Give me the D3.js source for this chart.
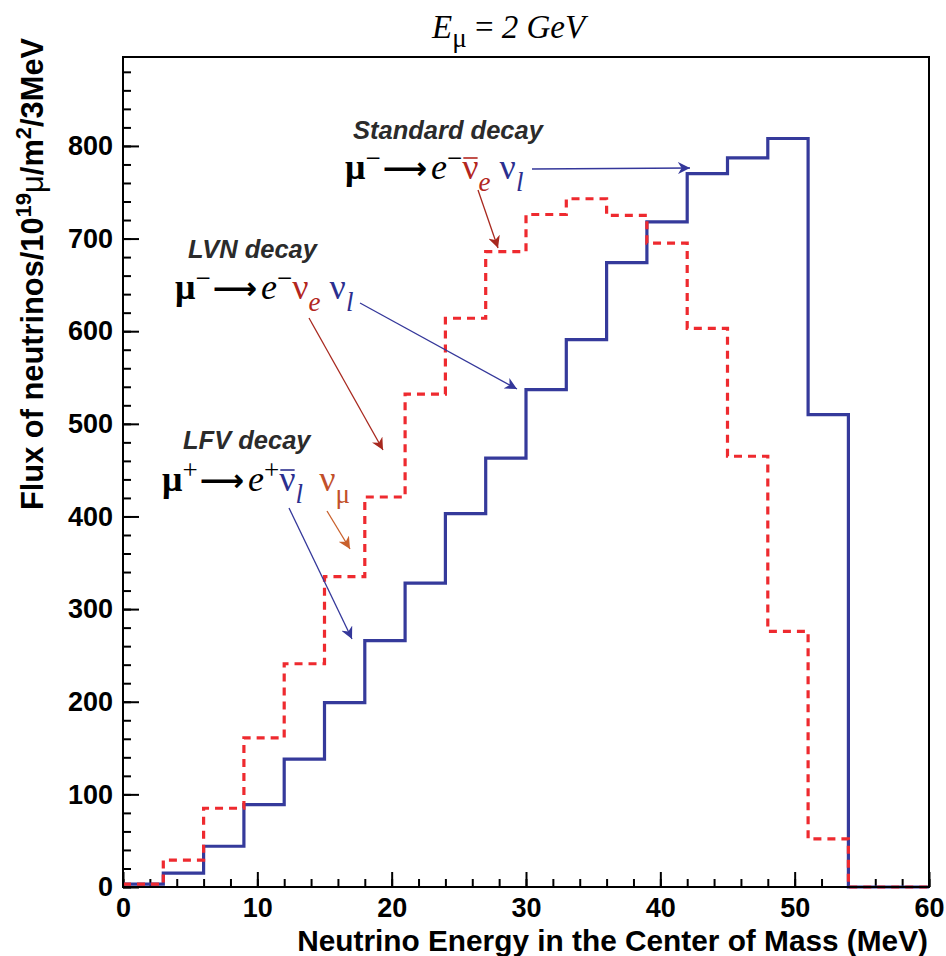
<!DOCTYPE html>
<html lang="en">
<head>
    <meta charset="UTF-8">
    <title>Neutrino flux, E_mu = 2 GeV</title>
    <script src="https://d3js.org/d3.v7.min.js"></script>
    <style>
        body { margin: 0; background: #fff; }
        svg { display: block; }
        .tick text { font-family: "Liberation Sans", Arial, sans-serif; font-weight: bold; }
    </style>
</head>
<body>
<div id="my_dataviz"></div>
<script>
// bin lower edges (MeV), 3 MeV wide
var binStarts = [0, 3, 6, 9, 12, 15, 18, 21, 24, 27, 30, 33, 36, 39, 42, 45, 48, 51, 54, 57];
// standard decay (solid blue)
var standardFlux = [3, 15, 44, 89, 138, 199, 266, 328, 403, 463, 537, 591, 674, 718, 770, 787, 808, 510, 0, 0];
// LVN / LFV decay (dashed red)
var lvnFlux = [3, 29, 85, 161, 241, 335, 421, 532, 614, 686, 726, 743, 725, 695, 603, 465, 276, 52, 0, 0];
var binWidth = 3;
var xTicks = [0, 10, 20, 30, 40, 50, 60];
var yTicks = [0, 100, 200, 300, 400, 500, 600, 700, 800];

var W = 946, H = 956;
var margin = { top: 57, right: 17, bottom: 69, left: 123 },
    width = W - margin.left - margin.right,
    height = H - margin.top - margin.bottom;

var svgRoot = d3.select("#my_dataviz").append("svg")
    .attr("width", W).attr("height", H);

var defs = svgRoot.append("defs");
function marker(id, color) {
    defs.append("marker")
        .attr("id", id)
        .attr("viewBox", "0 0 10 10")
        .attr("refX", 10).attr("refY", 5)
        .attr("markerWidth", 12).attr("markerHeight", 12)
        .attr("markerUnits", "userSpaceOnUse")
        .attr("orient", "auto")
        .append("path")
        .attr("d", "M0,0 L10,5 L0,10 L3,5 Z")
        .attr("fill", color);
}
marker("arrBlue", "#34379a");
marker("arrRed", "#a8281e");
marker("arrOrange", "#c9602c");

var svg = svgRoot.append("g")
    .attr("transform", "translate(" + margin.left + "," + margin.top + ")");

var x = d3.scaleLinear().domain([0, 60]).range([0, width]);
var y = d3.scaleLinear().domain([0, 896]).range([height, 0]);

// axes: ticks drawn inward like ROOT
var xMinor = svg.append("g").attr("transform", "translate(0," + height + ")")
    .call(d3.axisBottom(x).tickValues(d3.range(0, 61, 2)).tickSize(-8).tickFormat(""));
var xMajor = svg.append("g").attr("transform", "translate(0," + height + ")")
    .call(d3.axisBottom(x).tickValues(xTicks).tickSize(-15).tickPadding(8));
var yMinor = svg.append("g")
    .call(d3.axisLeft(y).tickValues(d3.range(0, 896, 20)).tickSize(-8).tickFormat(""));
var yMajor = svg.append("g")
    .call(d3.axisLeft(y).tickValues(yTicks).tickSize(-16).tickPadding(10));
[xMinor, xMajor, yMinor, yMajor].forEach(function (g) {
    g.select(".domain").remove();
    g.selectAll(".tick line").attr("stroke", "#000").attr("stroke-width", 2);
});
xMajor.selectAll(".tick text").style("font-size", "27px").attr("dy", "0.8em");
yMajor.selectAll(".tick text").style("font-size", "27px");

// histograms as step lines
function stepPoints(vals) {
    var pts = binStarts.map(function (b, i) { return [b, vals[i]]; });
    pts.push([binStarts[binStarts.length - 1] + binWidth, vals[vals.length - 1]]);
    return pts;
}
var line = d3.line()
    .x(function (d) { return x(d[0]); })
    .y(function (d) { return y(d[1]); })
    .curve(d3.curveStepAfter);

svg.append("path")
    .datum(stepPoints(standardFlux))
    .attr("d", line)
    .attr("fill", "none")
    .attr("stroke", "#353a9b")
    .attr("stroke-width", 3.2);

svg.append("path")
    .datum(stepPoints(lvnFlux))
    .attr("d", line)
    .attr("fill", "none")
    .attr("stroke", "#ee2a2f")
    .attr("stroke-width", 3.2)
    .attr("stroke-dasharray", "8,6");

// frame
svg.append("rect")
    .attr("width", width).attr("height", height)
    .attr("fill", "none").attr("stroke", "#000").attr("stroke-width", 2);

// title
var title = svgRoot.append("text")
    .attr("x", 432).attr("y", 38)
    .style("font-family", "'Liberation Serif', 'Times New Roman', serif")
    .style("font-size", "33px");
title.append("tspan").style("font-style", "italic").text("E");
title.append("tspan").attr("dy", 9).style("font-size", "27px").text("\u03bc");
title.append("tspan").attr("dy", -9).text(" = ");
title.append("tspan").style("font-style", "italic").text("2 GeV");

// axis titles
svgRoot.append("text")
    .attr("x", 928).attr("y", 951)
    .attr("text-anchor", "end")
    .style("font-family", "'Liberation Sans', Arial, sans-serif")
    .style("font-weight", "bold")
    .style("font-size", "29.8px")
    .text("Neutrino Energy in the Center of Mass (MeV)");

var ylab = svgRoot.append("text")
    .attr("transform", "translate(43,510) rotate(-90)")
    .attr("text-anchor", "start")
    .style("font-family", "'Liberation Sans', Arial, sans-serif")
    .style("font-weight", "bold")
    .style("font-size", "30.8px");
ylab.append("tspan").text("Flux of neutrinos/10");
ylab.append("tspan").attr("dy", -12).style("font-size", "22px").text("19");
ylab.append("tspan").attr("dy", 12).style("font-weight", "normal").text("\u03bc");
ylab.append("tspan").text("/m");
ylab.append("tspan").attr("dy", -12).style("font-size", "22px").text("2");
ylab.append("tspan").attr("dy", 12).text("/3MeV");

// annotations
var serif = "'Liberation Serif', 'Times New Roman', serif";
function heading(xp, yp, txt) {
    svgRoot.append("text")
        .attr("x", xp).attr("y", yp)
        .style("font-family", "'Liberation Sans', Arial, sans-serif")
        .style("font-weight", "bold")
        .style("font-style", "italic")
        .style("font-size", "25.5px")
        .attr("fill", "#2b2b2b")
        .text(txt);
}
// parts: {t: text, c: color, it: italic, s: shift (-1 sup, 1 sub), bar: overline, arrow, gap}
function formula(xp, yp, parts) {
    var t = svgRoot.append("text")
        .attr("x", xp).attr("y", yp)
        .style("font-family", serif)
        .style("font-size", "36px");
    var cur = 0, bars = [];
    parts.forEach(function (p) {
        var shift = (p.s || 0) * 12;
        var ts = t.append("tspan")
            .attr("dy", shift - cur)
            .attr("fill", p.c || "#000")
            .style("font-style", p.it ? "italic" : "normal")
            .style("font-size", p.s ? "27px" : "36px")
            .text(p.t);
        if (p.gap) ts.attr("dx", p.gap);
        if (p.bold) ts.style("font-weight", "bold");
        if (p.arrow) ts.style("font-family", "'DejaVu Sans', sans-serif").style("font-size", "31px").style("font-weight", "bold");
        if (p.bar) bars.push([ts, p.c]);
        cur = shift;
    });
    // overline for antineutrinos
    bars.forEach(function (b) {
        var bb = b[0].node().getBBox();
        svgRoot.append("line")
            .attr("x1", bb.x + 1).attr("x2", bb.x + bb.width - 1)
            .attr("y1", yp - 21).attr("y2", yp - 21)
            .attr("stroke", b[1]).attr("stroke-width", 1.6);
    });
    return t;
}
function arrow(x1, y1, x2, y2, color, id) {
    svgRoot.append("line")
        .attr("x1", x1).attr("y1", y1).attr("x2", x2).attr("y2", y2)
        .attr("stroke", color).attr("stroke-width", 1.3)
        .attr("marker-end", "url(#" + id + ")");
}

var red = "#b3261e", blu = "#2b2f8f", org = "#c2502a";

heading(353, 139, "Standard decay");
formula(345, 179, [
    { t: "\u03bc", bold: true }, { t: "\u2212", s: -1 }, { t: "\u27f6", arrow: true, gap: 2 },
    { t: "e", it: true, gap: 4 }, { t: "\u2212", s: -1 },
    { t: "\u03bd", c: red, bar: true }, { t: "e", c: red, it: true, s: 1 },
    { t: "\u03bd", c: blu, gap: 9 }, { t: "l", c: blu, it: true, s: 1 }
]);
arrow(532, 169, 690, 168, "#34379a", "arrBlue");
arrow(478, 190, 498, 248, "#a8281e", "arrRed");

heading(188, 258, "LVN decay");
formula(175, 299, [
    { t: "\u03bc", bold: true }, { t: "\u2212", s: -1 }, { t: "\u27f6", arrow: true, gap: 2 },
    { t: "e", it: true, gap: 4 }, { t: "\u2212", s: -1 },
    { t: "\u03bd", c: red }, { t: "e", c: red, it: true, s: 1 },
    { t: "\u03bd", c: blu, gap: 9 }, { t: "l", c: blu, it: true, s: 1 }
]);
arrow(360, 303, 517, 389, "#34379a", "arrBlue");
arrow(309, 318, 383, 450, "#a8281e", "arrRed");

heading(183, 449, "LFV decay");
formula(162, 491, [
    { t: "\u03bc", bold: true }, { t: "+", s: -1 }, { t: "\u27f6", arrow: true, gap: 2 },
    { t: "e", it: true, gap: 4 }, { t: "+", s: -1 },
    { t: "\u03bd", c: blu, bar: true }, { t: "l", c: blu, it: true, s: 1 },
    { t: "\u03bd", c: org, gap: 16 }, { t: "\u03bc", c: org, s: 1 }
]);
arrow(289, 508, 352, 639, "#34379a", "arrBlue");
arrow(327, 511, 350, 549, "#c9602c", "arrOrange");
</script>
</body>
</html>
